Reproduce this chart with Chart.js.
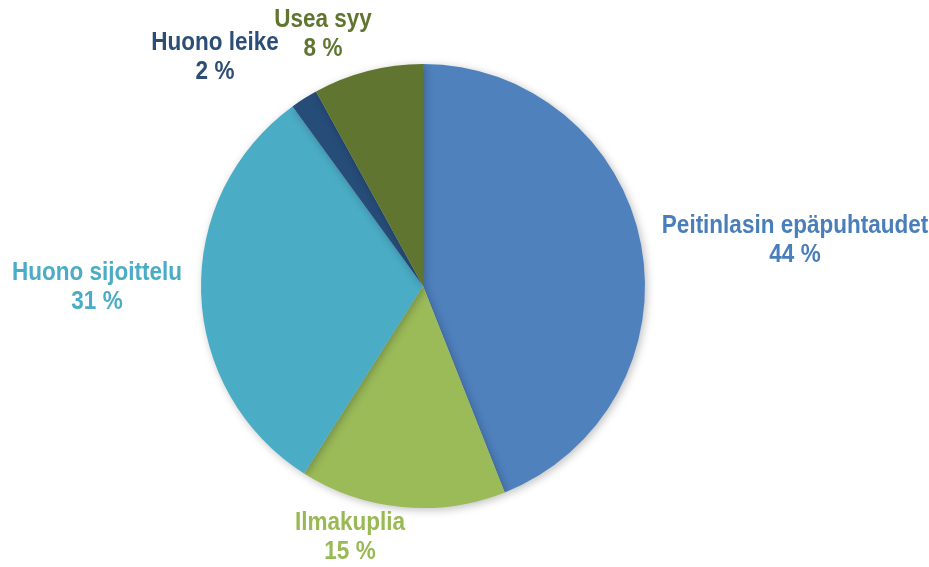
<!DOCTYPE html>
<html>
<head>
<meta charset="utf-8">
<script src="https://cdn.jsdelivr.net/npm/chart.js@4.4.1/dist/chart.umd.min.js"></script>
<style>
  html, body { margin: 0; padding: 0; background: #ffffff; }
  #wrap { width: 929px; height: 567px; position: relative; }
</style>
</head>
<body>
<div id="wrap"><canvas id="pie"></canvas></div>
<script>
// === Data ===
const categories = ['Peitinlasin epäpuhtaudet', 'Ilmakuplia', 'Huono sijoittelu', 'Huono leike', 'Usea syy'];
const percents = [44, 15, 31, 2, 8];
const sliceColors = ['#4F81BD', '#9BBB59', '#4BACC6', '#264C78', '#5F7530'];
const labelColors = ['#4A7EBB', '#98B954', '#4BACC6', '#2C4D75', '#5F7530'];

// label placement, offset from pie centre (px)
const labelOffsets = [[372, -46], [-73, 251], [-326, 1], [-208, -229], [-100, -252]];

// no narrow font installed, so squeeze the bold sans horizontally
const FONT = 'bold 25px "Liberation Sans Narrow", "Arial Narrow", "Liberation Sans", sans-serif';
const SQUEEZE = 0.9;

// draws the category + percent labels outside the slices
const outsideLabels = {
    id: 'outsideLabels',
    afterDatasetsDraw(chart) {
        const ctx = chart.ctx;
        const meta = chart.getDatasetMeta(0);
        meta.data.forEach((arc, i) => {
            const x = arc.x + labelOffsets[i][0];
            const y = arc.y + labelOffsets[i][1];
            ctx.save();
            ctx.translate(x, y);
            ctx.scale(SQUEEZE, 1);
            ctx.font = FONT;
            ctx.textAlign = 'center';
            ctx.textBaseline = 'middle';
            ctx.fillStyle = labelColors[i];
            ctx.fillText(categories[i], 0, -14);
            ctx.fillText(percents[i] + ' %', 0, 15);
            ctx.restore();
        });
    }
};

// soft shadow under the pie
const pieShadow = {
    id: 'pieShadow',
    beforeDatasetsDraw(chart) {
        const ctx = chart.ctx;
        ctx.save();
        ctx.shadowColor = 'rgba(0,0,0,0.25)';
        ctx.shadowBlur = 8;
        ctx.shadowOffsetX = 2;
        ctx.shadowOffsetY = 2;
    },
    afterDatasetsDraw(chart) {
        chart.ctx.restore();
    }
};

new Chart(document.getElementById('pie'), {
    type: 'pie',
    data: {
        labels: categories,
        datasets: [{
            data: percents,
            backgroundColor: sliceColors,
            borderWidth: 0
        }]
    },
    options: {
        responsive: true,
        maintainAspectRatio: false,
        animation: false,
        layout: { padding: { top: 64, bottom: 59, left: 201, right: 284 } },
        plugins: {
            legend: { display: false },
            tooltip: { enabled: false }
        }
    },
    plugins: [pieShadow, outsideLabels]
});
</script>
</body>
</html>
